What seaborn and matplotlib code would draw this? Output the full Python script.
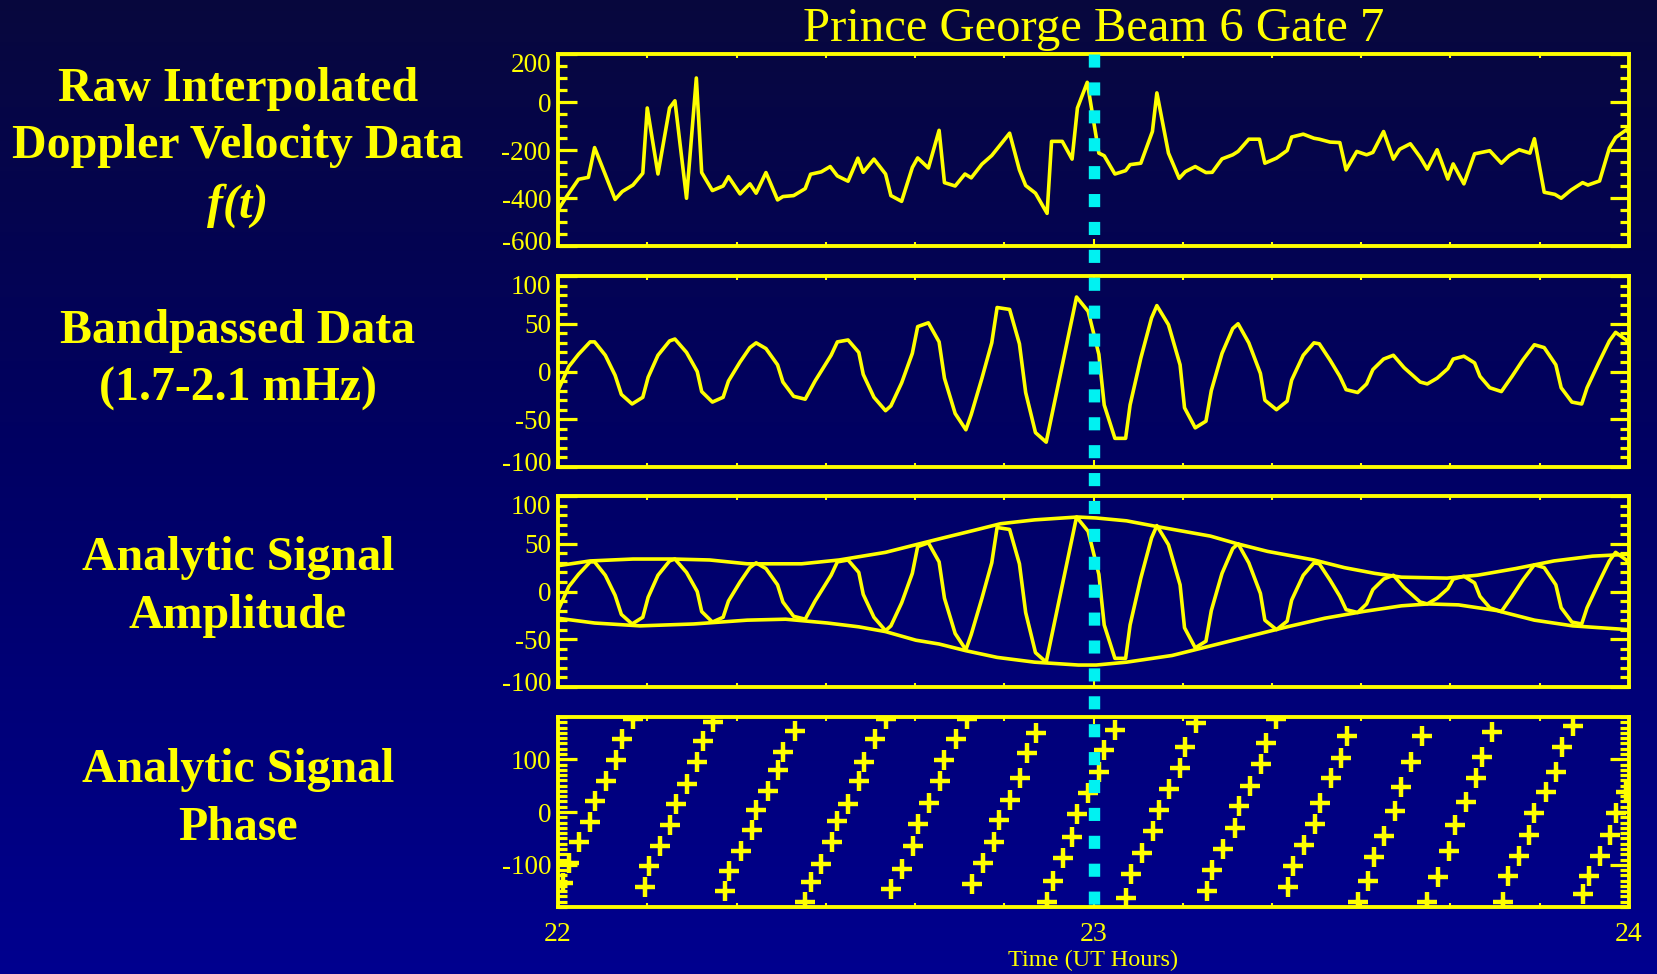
import numpy as np
import matplotlib
matplotlib.use("Agg")
import matplotlib.pyplot as plt
import matplotlib.transforms as mtransforms
from matplotlib.lines import Line2D
from matplotlib.colors import LinearSegmentedColormap
from matplotlib.ticker import MultipleLocator
import seaborn as sns

# ---------------- data ----------------
start_hour = 22.0
marker_time = 23.0

raw_minutes = [0.0, 1.0, 2.3, 3.4, 4.1, 6.4, 7.2, 8.4, 9.5, 10.0, 11.2, 12.5, 13.1, 14.4, 15.5,
               16.1, 17.3, 18.5, 19.1, 20.4, 21.5, 22.2, 23.3, 24.6, 25.2, 26.4, 27.7, 28.3,
               29.5, 30.5, 31.3, 32.5, 33.6, 34.2, 35.4, 36.7, 37.3, 38.5, 39.7, 40.3, 41.5,
               42.7, 43.3, 44.5, 45.6, 46.3, 47.5, 48.6, 50.6, 51.7, 52.4, 53.5, 54.8, 55.3,
               56.5, 57.6, 58.2, 59.3, 60.6, 61.2, 62.4, 63.6, 64.1, 65.3, 66.6, 67.1, 68.4,
               69.6, 70.3, 71.4, 72.6, 73.3, 74.4, 75.6, 76.2, 77.4, 78.6, 79.2, 80.5, 81.7,
               82.2, 83.5, 84.7, 85.3, 86.5, 87.6, 88.3, 89.5, 90.6, 91.3, 92.5, 93.6, 94.3,
               95.5, 96.6, 97.4, 98.5, 99.7, 100.3, 101.5, 102.7, 104.4, 105.7, 106.6, 107.7,
               108.9, 109.4, 110.5, 111.7, 112.4, 113.5, 114.8, 115.4, 116.7, 117.8, 118.5,
               119.7, 120.0]
raw_velocity = [-450, -392, -322, -314, -190, -406, -373, -346, -297, -25, -300, -25, 5, -401, 100,
                -294, -369, -350, -311, -383, -341, -380, -294, -408, -394, -390, -361, -301,
                -291, -269, -308, -330, -234, -293, -238, -300, -390, -414, -273, -233, -275,
                -118, -336, -350, -300, -316, -259, -223, -130, -283, -348, -380, -464, -164,
                -164, -238, -25, 82, -213, -224, -300, -286, -261, -255, -123, 38, -213,
                -318, -290, -269, -294, -293, -237, -220, -206, -155, -155, -255, -234, -202,
                -146, -134, -151, -155, -167, -169, -283, -206, -220, -210, -123, -238, -197,
                -174, -230, -280, -199, -321, -258, -341, -216, -203, -255, -223, -199,
                -213, -153, -376, -385, -401, -367, -336, -346, -329, -192, -148,
                -116, -130]

bp_minutes = [0.0, 1.2, 2.3, 3.6, 4.1, 5.3, 6.4, 7.1, 8.3, 9.5, 10.1, 11.2, 12.5, 13.1, 14.4,
              15.6, 16.1, 17.3, 18.5, 19.1, 20.4, 21.5, 22.2, 23.3, 24.6, 25.2, 26.4, 27.7,
              28.8, 30.6, 31.3, 32.5, 33.7, 34.2, 35.4, 36.7, 37.3, 38.5, 39.7, 40.3, 41.5,
              42.7, 43.3, 44.5, 45.7, 46.3, 47.5, 48.6, 49.2, 50.6, 51.7, 52.4, 53.5, 54.7,
              58.1, 59.4, 60.6, 61.2, 62.4, 63.6, 64.1, 65.3, 66.5, 67.1, 68.4, 69.7, 70.2,
              71.4, 72.6, 73.2, 74.4, 75.6, 76.2, 77.4, 78.7, 79.2, 80.5, 81.7, 82.2, 83.5,
              84.7, 85.3, 86.5, 87.6, 88.3, 89.6, 90.6, 91.3, 92.5, 93.6, 94.8, 96.6, 97.4,
              98.5, 99.7, 100.3, 101.5, 102.7, 103.3, 104.4, 105.7, 106.9, 108.1, 109.4,
              110.5, 111.8, 112.4, 113.6, 114.7, 115.3, 116.6, 117.8, 118.5, 119.7, 120.0]
bp_velocity = [-20, 5, 18, 31, 31, 17, -4, -24, -34, -27, -6, 17, 32, 34, 20,
               0, -21, -32, -27, -10, 10, 25, 30, 24, 7, -11, -26, -29,
               -10, 17, 31, 33, 20, -3, -27, -41, -36, -12, 19, 47, 51,
               31, -7, -44, -61, -45, -7, 30, 67, 65, 29, -22, -64, -74,
               78, 63, 18, -35, -70, -70, -35, 14, 56, 69, 49, 7, -38,
               -59, -52, -20, 19, 45, 50, 30, -2, -30, -40, -31, -9, 17,
               30, 29, 12, -5, -19, -22, -13, 2, 13, 17, 4, -11, -13,
               -7, 3, 13, 16, 9, -5, -17, -21, -5, 12, 28,
               25, 7, -17, -32, -34, -17, 9, 32, 41, 33, 28]

env_upper_minutes = [0, 3.6, 8.4, 12.9, 17.0, 21.2, 27.3, 31.5, 34.1, 36.7, 40.1, 43.1, 46.6,
                     49.6, 53.4, 58.2, 60.3, 63.7, 67.1, 70.1, 73.1, 76.1, 79.5, 84.7, 88.1,
                     91.5, 94.5, 99.6, 103.0, 107.3, 111.6, 115.9, 120]
env_upper = [27, 32, 34, 34, 33, 29, 29, 33, 37, 41, 49, 56, 64,
             71, 75, 78, 77, 74, 68, 63, 58, 50, 42, 33, 25,
             19, 15, 14, 17, 24, 32, 37, 39]
env_lower_minutes = [0, 4.1, 9.2, 15.2, 21.2, 25.5, 30.2, 33.7, 36.7, 40.1, 42.7, 45.7, 49.2,
                     53.4, 58.3, 60.3, 63.7, 68.8, 73.1, 77.4, 81.7, 85.9, 90.2, 94.5, 97.5,
                     100.9, 105.2, 109.4, 113.7, 120]
env_lower = [-28, -33, -36, -34, -30, -29, -33, -37, -42, -51, -55, -62, -69,
             -74, -77, -77, -74, -67, -57, -47, -37, -28, -21, -15, -13,
             -14, -20, -30, -36, -40]

phase_minutes = [0.6, 1.2, 2.3, 3.6, 4.2, 5.4, 6.5, 7.2, 8.4,
                 9.7, 10.2, 11.4, 12.6, 13.2, 14.4, 15.6, 16.2, 17.4,
                 18.7, 19.2, 20.5, 21.7, 22.2, 23.5, 24.7, 25.2, 26.5,
                 27.7, 28.3, 29.5, 30.7, 31.3, 32.5, 33.7, 34.3, 35.5, 36.8,
                 37.3, 38.5, 39.8, 40.3, 41.6, 42.8, 43.3, 44.6, 45.8,
                 46.4, 47.6, 48.8, 49.4, 50.6, 51.8, 52.5, 53.6,
                 54.8, 55.5, 56.6, 57.6, 58.2, 59.4, 60.6, 61.2, 62.4,
                 63.6, 64.2, 65.4, 66.7, 67.3, 68.5, 69.7, 70.3, 71.5,
                 72.7, 73.3, 74.5, 75.8, 76.3, 77.5, 78.8, 79.3, 80.5,
                 81.8, 82.3, 83.6, 84.8, 85.4, 86.6, 87.7, 88.4,
                 89.6, 90.8, 91.4, 92.6, 93.8, 94.4, 95.6, 96.8,
                 97.4, 98.6, 99.8, 100.5, 101.7, 102.9, 103.5, 104.7,
                 105.9, 106.4, 107.7, 108.8, 109.4, 110.7, 111.8, 112.5, 113.7,
                 114.9, 115.5, 116.7, 117.9, 118.5, 119.7]
phase_deg = [-135, -97, -57, -19, 20, 59, 99, 139, 176,
             -143, -103, -64, -24, 15, 53, 94, 134, 170,
             -150, -111, -74, -35, 4, 39, 79, 114, 153,
             -171, -133, -99, -57, -17, 16, 58, 95, 138, 176,
             -146, -108, -64, -22, 18, 58, 98, 139, 176,
             -136, -97, -56, -16, 23, 64, 111, 150,
             -171, -130, -88, -48, -4, 36, 76, 117, 156,
             -163, -118, -77, -36, 3, 43, 84, 123, 169,
             -150, -109, -71, -30, 11, 50, 91, 131, 176,
             -143, -103, -63, -23, 17, 64, 103, 144,
             -171, -130, -86, -46, 1, 48, 94, 144,
             -171, -124, -73, -25, 19, 65, 104, 151,
             -171, -122, -83, -43, -2, 38, 76, 123, 163,
             -156, -122, -83, -43, -2, 37]

title_text = "Prince George Beam 6 Gate 7"
x_tick_values = [22, 23, 24]
x_tick_labels = ["22", "23", "24"]
x_label = "Time (UT Hours)"
panel_text = [
    ("Raw Interpolated", "normal"),
    ("Doppler Velocity Data", "normal"),
    ("f(t)", "italic"),
    ("Bandpassed Data", "normal"),
    ("(1.7-2.1 mHz)", "normal"),
    ("Analytic Signal", "normal"),
    ("Amplitude", "normal"),
    ("Analytic Signal", "normal"),
    ("Phase", "normal"),
]
panel_text_baselines_px = [101, 158, 218, 343, 401, 570, 628, 782, 840]

ylims = [(-600, 200), (-100, 100), (-100, 100), (-180, 180)]
ymajor = [200, 50, 50, 100]
yminor = [50, 10, 10, 10]

# ---------------- style ----------------
YELLOW = "#FFFF00"
CYAN = "#00F2F2"
W_PX, H_PX = 1658, 974

sns.set_theme(style="ticks")
plt.rcParams["font.family"] = ["Liberation Serif", "DejaVu Serif"]
plt.rcParams["axes.unicode_minus"] = False

fig = plt.figure(figsize=(W_PX / 100, H_PX / 100), dpi=100)

# background gradient
bg = fig.add_axes([0, 0, 1, 1], zorder=-10)
grad = np.linspace(0, 1, 256)[:, None]
cmap = LinearSegmentedColormap.from_list("bg", [(0.03, 0.03, 0.24), (0.0, 0.0, 0.40), (0.0, 0.0, 0.56)])
bg.imshow(grad, aspect="auto", cmap=cmap, extent=[0, 1, 0, 1])
bg.set_axis_off()

left_px, right_px = 558, 1629
tops_px = [54, 276, 496, 717]
bots_px = [246, 467, 687, 907]
axes = []
for tp, bt in zip(tops_px, bots_px):
    ax = fig.add_axes([left_px / W_PX, 1 - bt / H_PX, (right_px - left_px) / W_PX, (bt - tp) / H_PX])
    axes.append(ax)

t_raw = start_hour + np.array(raw_minutes) / 60.0
t_bp = start_hour + np.array(bp_minutes) / 60.0
t_up = start_hour + np.array(env_upper_minutes) / 60.0
t_lo = start_hour + np.array(env_lower_minutes) / 60.0
t_ph = start_hour + np.array(phase_minutes) / 60.0

LW = 2.6
sns.lineplot(x=t_raw, y=raw_velocity, ax=axes[0], color=YELLOW, linewidth=LW, estimator=None, sort=False)
sns.lineplot(x=t_bp, y=bp_velocity, ax=axes[1], color=YELLOW, linewidth=LW, estimator=None, sort=False)
sns.lineplot(x=t_bp, y=bp_velocity, ax=axes[2], color=YELLOW, linewidth=LW, estimator=None, sort=False)
sns.lineplot(x=t_up, y=env_upper, ax=axes[2], color=YELLOW, linewidth=LW, estimator=None, sort=False)
sns.lineplot(x=t_lo, y=env_lower, ax=axes[2], color=YELLOW, linewidth=LW, estimator=None, sort=False)
sns.scatterplot(x=t_ph, y=phase_deg, ax=axes[3], marker="+", s=210, color=YELLOW, linewidth=3.2)

for i, ax in enumerate(axes):
    ax.set_facecolor("none")
    ax.patch.set_alpha(0)
    ax.set_xlim(x_tick_values[0], x_tick_values[-1])
    ax.set_ylim(*ylims[i])
    ax.set_xlabel("")
    ax.set_ylabel("")
    ax.grid(False)
    for sp in ax.spines.values():
        sp.set_visible(True)
        sp.set_color(YELLOW)
        sp.set_linewidth(2.8)
    ax.yaxis.set_major_locator(MultipleLocator(ymajor[i]))
    ax.yaxis.set_minor_locator(MultipleLocator(yminor[i]))
    ax.set_xticks(x_tick_values)
    ax.xaxis.set_minor_locator(MultipleLocator(1 / 6))
    ax.tick_params(axis="y", which="both", direction="in", left=True, right=True,
                   labelleft=True, labelright=False, color=YELLOW, labelcolor=YELLOW,
                   width=2.3, labelsize=19.5, pad=5)
    ax.tick_params(axis="y", which="major", length=13.5)
    ax.tick_params(axis="y", which="minor", length=6.3)
    ax.tick_params(axis="x", which="both", direction="in", top=True, bottom=True,
                   color=YELLOW, labelcolor=YELLOW, width=1.5, labelsize=20, pad=11)
    ax.tick_params(axis="x", which="major", length=5)
    ax.tick_params(axis="x", which="minor", length=3)
    if i < 3:
        ax.tick_params(axis="x", labelbottom=False)
    else:
        ax.set_xticklabels(x_tick_labels)

# edge labels nudged inside like the reference
for i, ax in enumerate(axes[:3]):
    ticks = ax.yaxis.get_major_ticks()
    locs = ax.yaxis.get_majorticklocs()
    lo, hi = ylims[i]
    for tk, loc in zip(ticks, locs):
        if np.isclose(loc, hi):
            tk.label1.set_transform(tk.label1.get_transform() +
                                    mtransforms.ScaledTranslation(0, -6 / 72, fig.dpi_scale_trans))
        elif np.isclose(loc, lo):
            tk.label1.set_transform(tk.label1.get_transform() +
                                    mtransforms.ScaledTranslation(0, 4 / 72, fig.dpi_scale_trans))

# event marker line across all panels
trans = mtransforms.blended_transform_factory(axes[0].transData, fig.transFigure)
y_top = axes[0].get_position().y1
y_bot = axes[3].get_position().y0
fig.add_artist(Line2D([marker_time, marker_time], [y_top, y_bot], transform=trans, color=CYAN,
                      linewidth=8.2, linestyle=(0, (1.15, 1.3)), dash_capstyle="butt", zorder=10))

# texts
cx = (left_px + right_px) / 2 / W_PX
fig.text(cx, 1 - 41 / H_PX, title_text, ha="center", va="baseline", fontsize=35, color=YELLOW)
fig.text(cx, 1 - 960 / H_PX, x_label, ha="center", va="center", fontsize=17.5, color=YELLOW)
for (txt, style), yb in zip(panel_text, panel_text_baselines_px):
    fig.text(238 / W_PX, 1 - yb / H_PX, txt, ha="center", va="baseline", fontsize=34.5,
             fontweight="bold", fontstyle=style, color=YELLOW)

fig.savefig("out.png", dpi=100)
